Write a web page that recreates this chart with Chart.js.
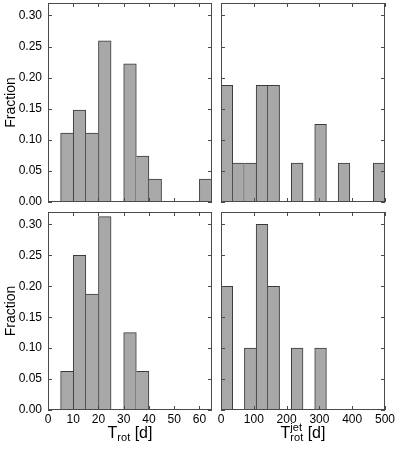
<!DOCTYPE html>
<html>
<head>
<meta charset="utf-8">
<script src="https://cdn.jsdelivr.net/npm/chart.js@4"></script>
<style>
  html, body { margin: 0; padding: 0; background: #fff; }
  #wrap { position: relative; width: 399px; height: 449px; }
  #wrap canvas { position: absolute; left: 0; top: 0; }
</style>
</head>
<body>
<div id="wrap">
  <canvas id="tl" width="399" height="449"></canvas>
  <canvas id="tr" width="399" height="449"></canvas>
  <canvas id="bl" width="399" height="449"></canvas>
  <canvas id="br" width="399" height="449"></canvas>
</div>
<script>
/* ---------- Data ---------- */
const fracTicks = [0, 0.05, 0.10, 0.15, 0.20, 0.25, 0.30];
const rotTicks = [0, 10, 20, 30, 40, 50, 60];
const jetTicks = [0, 100, 200, 300, 400, 500];

// T_rot: 5 d bins from 5 to 65 d
const rotEdges = [5, 10, 15, 20, 25, 30, 35, 40, 45, 50, 55, 60, 65];
const rotTop = [0.111, 0.148, 0.111, 0.259, 0, 0.222, 0.074, 0.037, 0, 0, 0, 0.037];
const rotBottom = [0.0625, 0.25, 0.1875, 0.3125, 0, 0.125, 0.0625, 0, 0, 0, 0, 0];

// T_rot^jet: 14 bins over 0-500 d
const jetEdges = [0, 35.7, 71.4, 107.1, 142.9, 178.6, 214.3, 250, 285.7, 321.4, 357.1, 392.9, 428.6, 464.3, 500];
const jetTop = [0.1875, 0.0625, 0.0625, 0.1875, 0.1875, 0, 0.0625, 0, 0.125, 0, 0.0625, 0, 0, 0.0625];
const jetBottom = [0.2, 0, 0.1, 0.3, 0.2, 0, 0.1, 0, 0.1, 0, 0, 0, 0, 0];

/* ---------- Style ---------- */
const FONT = '"Liberation Sans", Arial, Helvetica, sans-serif';
const FRAME = "#4a4a4a";
const W = 399, H = 449;

/* ---------- Helpers ---------- */
function binData(edges, vals) {
  return vals.map((v, i) => ({ x: (edges[i] + edges[i + 1]) / 2, y: v }));
}

// one shared edge line between touching bars: the taller bar draws it
function edgeWidths(vals) {
  return ctx => {
    const i = ctx.dataIndex;
    const v = vals[i];
    const prev = i > 0 ? vals[i - 1] : 0;
    const next = i < vals.length - 1 ? vals[i + 1] : 0;
    return { top: 1, bottom: 0, left: prev < v ? 1 : 0, right: next <= v ? 1 : 0 };
  };
}

function drawRich(ctx, parts, cx, base) {
  let total = 0;
  parts.forEach(p => {
    ctx.font = p.size + "px " + FONT;
    p.w = ctx.measureText(p.text).width;
    if (p.adv !== false) total += p.w;
  });
  let x = cx - total / 2;
  ctx.fillStyle = "#000";
  ctx.textBaseline = "alphabetic";
  ctx.textAlign = "left";
  parts.forEach(p => {
    ctx.font = p.size + "px " + FONT;
    ctx.fillText(p.text, x, base + (p.dy || 0));
    if (p.adv !== false) x += p.w;
  });
}

/* ---------- Frame, inward ticks, titles ---------- */
const framePlugin = {
  id: "frame",
  afterDatasetsDraw(chart, args, o) {
    const { ctx, chartArea: a, scales: { x, y } } = chart;
    ctx.save();
    ctx.strokeStyle = FRAME;
    ctx.lineWidth = 1;
    ctx.beginPath();
    o.xTicks.forEach(v => {
      const px = Math.round(x.getPixelForValue(v)) + 0.5;
      ctx.moveTo(px, a.bottom); ctx.lineTo(px, a.bottom - 4);
      ctx.moveTo(px, a.top); ctx.lineTo(px, a.top + 4);
    });
    o.yTicks.forEach(v => {
      const py = Math.round(y.getPixelForValue(v)) + 0.5;
      ctx.moveTo(a.left, py); ctx.lineTo(a.left + 4, py);
      ctx.moveTo(a.right, py); ctx.lineTo(a.right - 4, py);
    });
    ctx.stroke();
    ctx.strokeRect(a.left + 0.5, a.top + 0.5, a.width - 1, a.height - 1);

    if (o.yTitle) {
      ctx.save();
      ctx.translate(15, (a.top + a.bottom) / 2);
      ctx.rotate(-Math.PI / 2);
      ctx.font = "14px " + FONT;
      ctx.fillStyle = "#000";
      ctx.textAlign = "center";
      ctx.textBaseline = "alphabetic";
      ctx.fillText(o.yTitle, 0, 0);
      ctx.restore();
    }
    if (o.xTitle) drawRich(ctx, o.xTitle, (a.left + a.right) / 2, o.xTitleY);
    ctx.restore();
  }
};

/* ---------- Panels ---------- */
function panel(id, opt) {
  const showX = opt.xLabels, showY = opt.yLabels;
  new Chart(document.getElementById(id), {
    type: "bar",
    data: {
      datasets: [{
        data: binData(opt.edges, opt.vals),
        backgroundColor: "#a8a8a8",
        borderColor: "#3a3a3a",
        borderWidth: edgeWidths(opt.vals),
        borderSkipped: "start",
        barPercentage: 1,
        categoryPercentage: 1
      }]
    },
    options: {
      responsive: false,
      animation: false,
      events: [],
      layout: { padding: opt.pad },
      plugins: {
        legend: { display: false },
        tooltip: { enabled: false },
        frame: { xTicks: opt.xTicks, yTicks: fracTicks, yTitle: showY ? "Fraction" : null,
                 xTitle: opt.xTitle, xTitleY: opt.xTitleY }
      },
      scales: {
        x: {
          type: "linear",
          min: opt.xMin, max: opt.xMax,
          offset: false,
          grid: { display: false, drawTicks: false, offset: false },
          border: { display: false },
          afterBuildTicks: s => { s.ticks = opt.xTicks.map(v => ({ value: v })); },
          afterFit: s => { s.height = showX ? 22 : 0; s.paddingLeft = 0; s.paddingRight = 0; },
          ticks: {
            display: showX, autoSkip: false, maxRotation: 0, padding: 2,
            color: "#000", font: { family: FONT, size: 12 }
          }
        },
        y: {
          min: 0, max: 0.32,
          grid: { display: false, drawTicks: false },
          border: { display: false },
          afterBuildTicks: s => { s.ticks = fracTicks.map(v => ({ value: v })); },
          afterFit: s => { s.width = showY ? 48 : 0; s.paddingTop = 0; s.paddingBottom = 0; },
          ticks: {
            display: showY, padding: 6, color: "#000",
            font: { family: FONT, size: 12 },
            callback: v => v.toFixed(2)
          }
        }
      }
    },
    plugins: [framePlugin]
  });
}

const rotTitle = [
  { text: "T", size: 16 },
  { text: "rot", size: 11, dy: 3 },
  { text: " [d]", size: 16 }
];
const jetTitle = [
  { text: "T", size: 16 },
  { text: "jet", size: 11, dy: -7, adv: false },
  { text: "rot", size: 11, dy: 3 },
  { text: " [d]", size: 16 }
];

// chart areas: left 48-212 / right 221-385, top 3-202 / bottom 212-410
panel("tl", { edges: rotEdges, vals: rotTop, xMin: 0, xMax: 65, xTicks: rotTicks,
  xLabels: false, yLabels: true, pad: { left: 0, top: 3, right: W - 212, bottom: H - 202 } });
panel("tr", { edges: jetEdges, vals: jetTop, xMin: 0, xMax: 500, xTicks: jetTicks,
  xLabels: false, yLabels: false, pad: { left: 221, top: 3, right: W - 385, bottom: H - 202 } });
panel("bl", { edges: rotEdges, vals: rotBottom, xMin: 0, xMax: 65, xTicks: rotTicks,
  xLabels: true, yLabels: true, xTitle: rotTitle, xTitleY: 438,
  pad: { left: 0, top: 212, right: W - 212, bottom: H - 410 - 22 } });
panel("br", { edges: jetEdges, vals: jetBottom, xMin: 0, xMax: 500, xTicks: jetTicks,
  xLabels: true, yLabels: false, xTitle: jetTitle, xTitleY: 438,
  pad: { left: 221, top: 212, right: W - 385, bottom: H - 410 - 22 } });
</script>
</body>
</html>
